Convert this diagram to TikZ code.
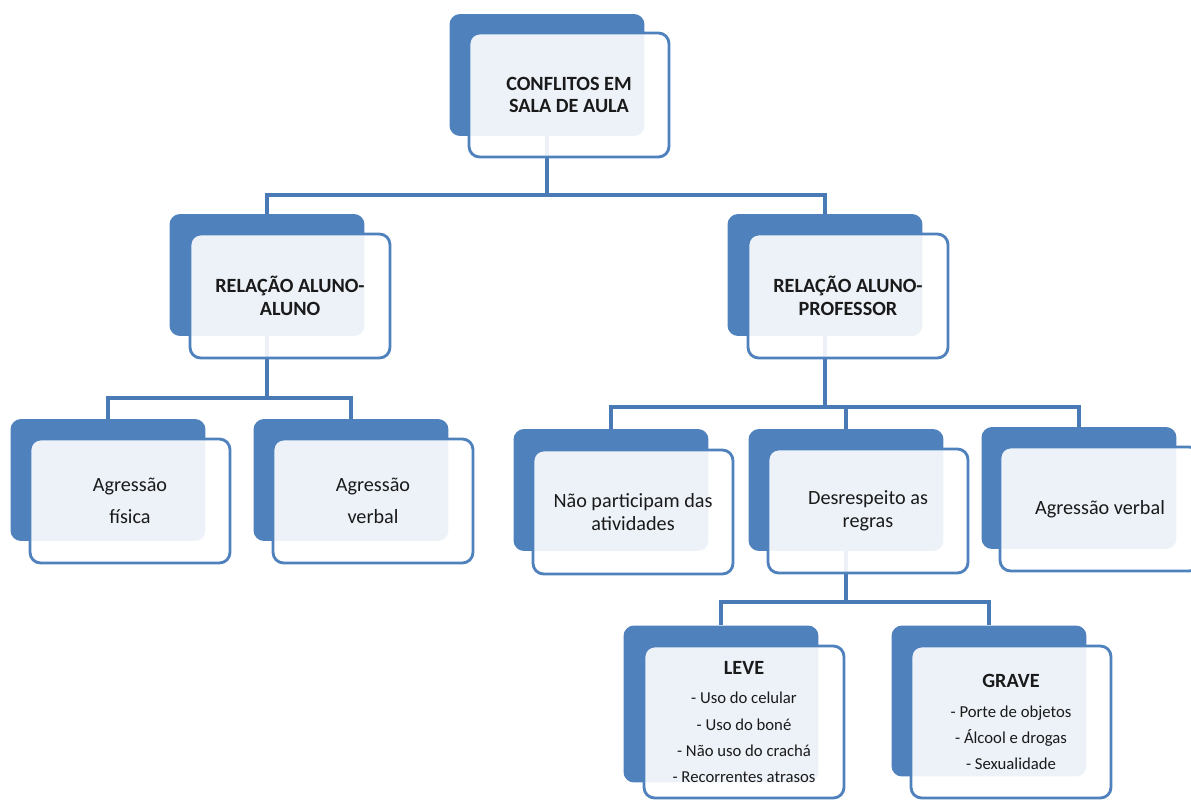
\documentclass[tikz,border=0pt]{standalone}
\usepackage{fontspec}
\setmainfont{Carlito}
\usetikzlibrary{backgrounds}
\definecolor{azul}{HTML}{4F81BD}
\definecolor{azulosc}{HTML}{4A7AB5}
\definecolor{tinta}{HTML}{1A1A1A}
\tikzset{
  every node/.style = {font=\fontsize{11.5}{13}\selectfont, text=tinta},
  fondo/.style      = {fill=azul, rounded corners=6pt, inner sep=0pt,
                       minimum width=3.9cm, minimum height=2.44cm},
  caja/.style       = {draw=azul, fill=white, fill opacity=0.9, text opacity=1,
                       rounded corners=6pt, line width=1.6pt, align=center,
                       inner sep=2pt, minimum width=4cm, minimum height=2.48cm},
  titulo/.style     = {caja, font=\bfseries\fontsize{11.5}{13}\selectfont},
  lista/.style      = {caja, minimum height=3.04cm,
                       font=\fontsize{9.5}{15}\selectfont},
  rama/.style       = {draw=azulosc, line width=2.2pt},
}

\begin{document}
\begin{tikzpicture}[x=0.02cm, y=-0.02cm]
\useasboundingbox (0,0) rectangle (1191,801);

% raiz
\node[fondo] (fRaiz) at (547,75) {};
\node[titulo] (cRaiz) at (569,95) {CONFLITOS EM\\SALA DE AULA};

% segundo nivel
\node[fondo] (fAA) at (267,275) {};
\node[titulo] (cAA) at (290,296) {RELAÇÃO ALUNO-\\ALUNO};
\node[fondo] (fAP) at (825,275) {};
\node[titulo] (cAP) at (848,296) {RELAÇÃO ALUNO-\\PROFESSOR};

% terceiro nivel
\node[fondo] (fFis) at (108,480) {};
\node[caja] (cFis) at (130,501) {Agressão\\[5pt]física};
\node[fondo] (fVer) at (351,480) {};
\node[caja] (cVer) at (373,501) {Agressão\\[5pt]verbal};

\node[fondo] (fNao) at (611,490) {};
\node[caja] (cNao) at (633,512) {Não participam das\\atividades};
\node[fondo] (fDes) at (846,490) {};
\node[caja] (cDes) at (868,511) {Desrespeito as\\regras};
\node[fondo] (fVer2) at (1079,488) {};
\node[caja] (cVer2) at (1100,509) {Agressão verbal};

% cuarto nivel
\node[fondo, minimum height=3.14cm] (fLeve) at (721,704) {};
\node[lista] (cLeve) at (744,722) {{\bfseries\fontsize{11.5}{13}\selectfont LEVE}\\[2pt]
  - Uso do celular\\- Uso do boné\\- Não uso do crachá\\- Recorrentes  atrasos};
\node[fondo, minimum height=3.02cm] (fGrave) at (989,701) {};
\node[lista] (cGrave) at (1011,722) {{\bfseries\fontsize{11.5}{13}\selectfont GRAVE}\\[2pt]
  - Porte de objetos\\- Álcool e drogas\\- Sexualidade};

\begin{scope}[on background layer]
\foreach \h in {fAA,fAP} \draw[rama] (fRaiz.south) -- ++(0,59) -| (\h.north);
\foreach \h in {fFis,fVer} \draw[rama] (fAA.south) -- ++(0,62) -| (\h.north);
\foreach \h in {fNao,fDes,fVer2} \draw[rama] (fAP.south) -- ++(0,71) -| (\h.north);
\foreach \h in {fLeve,fGrave} \draw[rama] (fDes.south) -- ++(0,51) -| (\h.north);
\end{scope}

\end{tikzpicture}
\end{document}
